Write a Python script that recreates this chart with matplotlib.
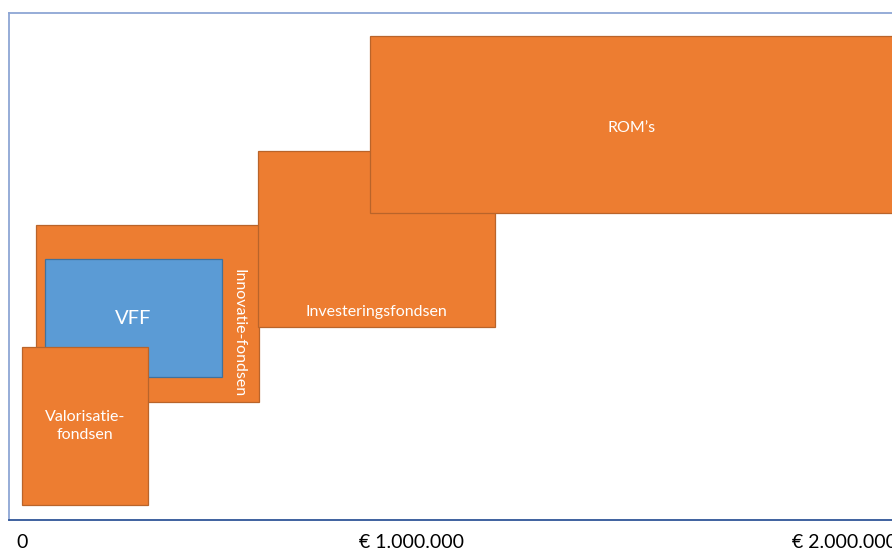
import matplotlib
matplotlib.use("Agg")
import matplotlib.pyplot as plt
from matplotlib.patches import Rectangle

plt.rcParams['font.family'] = ['Lato', 'DejaVu Sans']

# fund ranges: x in euro (start, end), y in arbitrary units (bottom, top)
funds = ['Innovatie-fondsen', 'VFF', 'Valorisatie-\nfondsen', 'Investeringsfondsen', "ROM\u2019s"]
x_start = [36e3, 59e3, 0, 605e3, 892e3]
x_end = [608e3, 513e3, 323e3, 1213e3, 2236e3]
y_bottom = [118, 143, 15, 193, 307]
y_top = [295, 261, 173, 369, 484]
colors = ['#ED7D31', '#5B9BD5', '#ED7D31', '#ED7D31', '#ED7D31']
edges = ['#B9642A', '#41719C', '#B9642A', '#B9642A', '#B9642A']

tick_pos = [0, 1.0e6, 2.11e6]
tick_labels = ['0', '\u20ac 1.000.000', '\u20ac 2.000.000']

fig = plt.figure(figsize=(8.92, 5.54), dpi=100)
ax = fig.add_axes([9 / 892, 34 / 554, 891 / 892, 507 / 554])
ax.set_xlim(-33333, 2251300)
ax.set_ylim(0, 507)

for i, name in enumerate(funds):
    w = x_end[i] - x_start[i]
    h = y_top[i] - y_bottom[i]
    ax.add_patch(Rectangle((x_start[i], y_bottom[i]), w, h,
                           facecolor=colors[i], edgecolor=edges[i], lw=0.9))
    cx = (x_start[i] + x_end[i]) / 2
    cy = (y_bottom[i] + y_top[i]) / 2
    if name.startswith('Innovatie'):
        # vertical label along the right side
        ax.text(x_end[i] - 52e3, cy - 20, name, rotation=-90, color='white',
                fontsize=11.5, ha='center', va='center')
    elif name.startswith('Investerings'):
        ax.text(cx, y_bottom[i] + 15, name, color='white', fontsize=11.5,
                ha='center', va='center')
    elif name == 'VFF':
        ax.text(cx, cy, name, color='white', fontsize=14.5, ha='center', va='center')
    elif name.startswith('ROM'):
        ax.text(cx, cy - 3, name, color='white', fontsize=11.5, ha='center', va='center')
    else:
        ax.text(cx, cy, name, color='white', fontsize=11.5, ha='center',
                va='center', linespacing=1.35)

ax.set_xticks(tick_pos)
ax.set_xticklabels(tick_labels, fontsize=14)
ax.tick_params(axis='x', length=0, pad=10)
ax.set_yticks([])

ax.spines['right'].set_visible(False)
ax.spines['left'].set_color('#8EA6D4')
ax.spines['top'].set_color('#8EA6D4')
ax.spines['bottom'].set_color('#2F5597')
for s in ['left', 'top', 'bottom']:
    ax.spines[s].set_linewidth(1.3)

fig.savefig('out.png', dpi=100)
